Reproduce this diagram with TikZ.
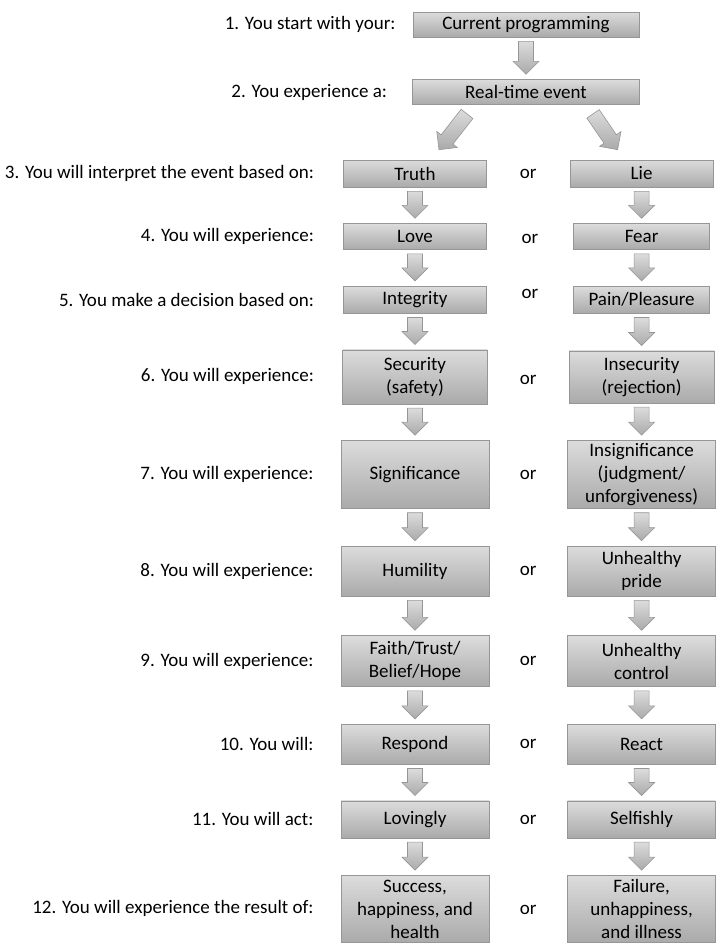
\documentclass[tikz,border=0pt]{standalone}
\usepackage{fontspec}
\setmainfont{Carlito}
\usetikzlibrary{positioning, calc}

\definecolor{boxtop}{RGB}{220,220,220}
\definecolor{boxbottom}{RGB}{170,170,170}
\definecolor{boxline}{RGB}{150,150,150}

% block arrow from one coordinate to another
\newcommand{\flowarrow}[2]{%
  \coordinate (fa-h) at ($(#2)!13pt!(#1)$);
  \draw[arr] ($(#1)!7.5pt!90:(#2)$) -- ($(fa-h)!7.5pt!90:(#2)$) -- ($(fa-h)!13pt!90:(#2)$)
    -- (#2) -- ($(fa-h)!13pt!-90:(#2)$) -- ($(fa-h)!7.5pt!-90:(#2)$) -- ($(#1)!7.5pt!-90:(#2)$) -- cycle;}
% vertical block arrow between two boxes
\newcommand{\stepdown}[2]{%
  \coordinate (sd-a) at ($(#1.south)+(0,-4pt)$);
  \coordinate (sd-b) at ($(sd-a |- #2.north)+(0,5pt)$);
  \flowarrow{sd-a}{sd-b}}

\begin{document}
\begin{tikzpicture}[
    every node/.style={font=\fontsize{19}{23}\selectfont},
    box/.style={rectangle, draw=boxline, top color=boxtop, bottom color=boxbottom,
                align=center, inner sep=0pt, line width=0.6pt},
    arr/.style={draw=boxline, top color=boxtop, bottom color=boxbottom, line width=0.6pt},
    lbl/.style={inner sep=0pt},
    ortext/.style={inner sep=0pt},
]
\useasboundingbox (0,0) rectangle (723pt,-946pt);

% top boxes
\node[box, minimum width=226pt, minimum height=25pt] (prog) at (526pt,-24.5pt) {Current programming};
\node[box, minimum width=227pt, minimum height=25pt, below=42pt of prog] (event) {Real-time event};

% left column
\node[box, minimum width=143pt, minimum height=27pt] (truth) at (415pt,-173.5pt) {Truth};
\node[box, minimum width=143pt, minimum height=26pt, below=36pt of truth] (love) {Love};
\node[box, minimum width=143pt, minimum height=27pt, below=36pt of love] (integrity) {Integrity};
\node[box, minimum width=145pt, minimum height=54pt, below=36pt of integrity] (security) {Security\\(safety)};
\node[box, minimum width=148pt, minimum height=68pt, below=36pt of security] (signif) {Significance};
\node[box, minimum width=148pt, minimum height=50pt, below=37pt of signif] (humility) {Humility};
\node[box, minimum width=148pt, minimum height=51pt, below=39pt of humility] (faith) {Faith/Trust/\\Belief/Hope};
\node[box, minimum width=148pt, minimum height=40pt, below=37pt of faith] (respond) {Respond};
\node[box, minimum width=148pt, minimum height=37pt, below=36pt of respond] (lovingly) {Lovingly};
\node[box, minimum width=148pt, minimum height=67pt, below=37pt of lovingly] (success) {Success,\\happiness, and\\health};

% right column
\node[box, minimum width=143pt, minimum height=27pt, right=83pt of truth] (lie) {Lie};
\node[box, minimum width=136pt, minimum height=26pt, right=86.5pt of love] (fear) {Fear};
\node[box, minimum width=136pt, minimum height=27pt, right=86.5pt of integrity] (pain) {Pain/Pleasure};
\node[box, minimum width=145pt, minimum height=52pt, right=81pt of security] (insecurity) {Insecurity\\(rejection)};
\node[box, minimum width=148pt, minimum height=68pt, right=78pt of signif] (insignif) {Insignificance\\(judgment/\\unforgiveness)};
\node[box, minimum width=148pt, minimum height=50pt, right=78pt of humility] (pride) {Unhealthy\\pride};
\node[box, minimum width=148pt, minimum height=51pt, right=78pt of faith] (control) {Unhealthy\\control};
\node[box, minimum width=148pt, minimum height=40pt, right=78pt of respond] (react) {React};
\node[box, minimum width=148pt, minimum height=37pt, right=78pt of lovingly] (selfishly) {Selfishly};
\node[box, minimum width=148pt, minimum height=67pt, right=78pt of success] (failure) {Failure,\\unhappiness,\\and illness};

% step labels
\node[lbl, left=17pt of prog] (l1) {1. You start with your:};
\node[lbl, left=25pt of event] (l2) {2. You experience a:};
\node[lbl, left=29pt of truth] (l3) {3. You will interpret the event based on:};
\node[lbl, left=29pt of love] (l4) {4. You will experience:};
\node[lbl, left=29pt of integrity] (l5) {5. You make a decision based on:};
\node[lbl, left=28pt of security] (l6) {6. You will experience:};
\node[lbl, left=27pt of signif] (l7) {7. You will experience:};
\node[lbl, left=27pt of humility] (l8) {8. You will experience:};
\node[lbl, left=27pt of faith] (l9) {9. You will experience:};
\node[lbl, left=27pt of respond] (l10) {10. You will:};
\node[lbl, left=27pt of lovingly] (l11) {11. You will act:};
\node[lbl, left=27pt of success] (l12) {12. You will experience the result of:};

% "or" between the columns
\foreach \a/\b/\s in {truth/lie/0, love/fear/-2, integrity/pain/6, security/insecurity/-3,
                      signif/insignif/-1, humility/pride/0, faith/control/0,
                      respond/react/0, lovingly/selfishly/-1, success/failure/-1}
  \node[ortext, yshift=\s pt] (or-\a) at ($(\a.east)!0.5!(\b.west)$) {or};

% arrows
\stepdown{prog}{event}
\coordinate (dl-a) at ($(event.south)+(-59pt,-9pt)$);
\coordinate (dl-b) at ($(truth.north)+(24pt,10pt)$);
\flowarrow{dl-a}{dl-b}
\coordinate (dr-a) at ($(event.south)+(67pt,-9pt)$);
\coordinate (dr-b) at ($(lie.north)+(-24pt,10pt)$);
\flowarrow{dr-a}{dr-b}
\foreach \a/\b in {truth/love, love/integrity, integrity/security, security/signif,
                   signif/humility, humility/faith, faith/respond, respond/lovingly,
                   lovingly/success,
                   lie/fear, fear/pain, pain/insecurity, insecurity/insignif,
                   insignif/pride, pride/control, control/react, react/selfishly,
                   selfishly/failure}
  {\stepdown{\a}{\b}}

\end{tikzpicture}
\end{document}
